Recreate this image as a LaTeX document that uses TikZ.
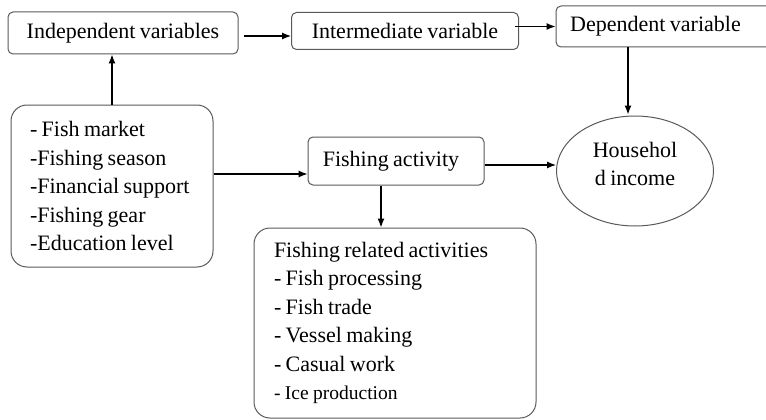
\documentclass[tikz,border=0pt]{standalone}
\usepackage{fontspec}
\setmainfont[WordSpace=0.8]{Liberation Serif}
\usetikzlibrary{shapes,arrows.meta}

\begin{document}
\begin{tikzpicture}[x=1pt,y=-1pt,>={Latex[length=9pt,width=7pt]}]
\tikzstyle{box} = [draw=black!65,line width=1pt,rounded corners=5pt,inner sep=0pt,
  font=\fontsize{22}{28.5}\selectfont]
\tikzstyle{listbox} = [box,rounded corners=16pt,align=left,inner xsep=19pt,
  execute at begin node={\spaceskip=0.2em plus 0.05em\relax}]
\tikzstyle{conn} = [->,line width=1.2pt]
\useasboundingbox (0,0) rectangle (766,420);
% top row
\node[box,minimum width=230pt,minimum height=42pt] (indep) at (123,33) {Independent variables};
\node[box,minimum width=227pt,minimum height=37pt] (inter) at (405,31) {Intermediate variable};
\node[box,minimum width=216pt,minimum height=41pt] (dep) at (664,26.5) {\hspace*{-17pt}Dependent variable};
% factors
\node[listbox,text width=164pt,minimum height=162pt] (factors) at (112,186)
  {- Fish market\\-Fishing season\\-Financial support\\-Fishing gear\\-Education level};
\node[box,minimum width=176pt,minimum height=48pt] (act) at (396,161) {\hspace*{-10pt}Fishing activity};
\node[draw=black!65,line width=1pt,ellipse,minimum width=157pt,minimum height=110pt,inner sep=0pt,
  label={[align=center,font=\fontsize{22}{28.5}\selectfont,yshift=7pt]center:Househol\\d income}]
  (house) at (635,171) {};
\node[listbox,inner xsep=20pt,text width=242pt,minimum height=190pt] (rel) at (395,323)
  {Fishing related activities\\- Fish processing\\- Fish trade\\- Vessel making\\- Casual work\\
   {\fontsize{19.5}{28.5}\selectfont - Ice production}};
% connectors
\draw[conn] (factors.north) -- (factors.north |- indep.south);
\draw[conn,shorten <=5pt] ([yshift=-3pt]indep.east) -- ([yshift=-3pt]indep.east -| inter.west);
\draw[conn,shorten <=-4pt] (dep.west -| inter.east) -- (dep.west);
\draw[conn] ([xshift=-7pt]house.north |- dep.south) -- ([xshift=-7pt,yshift=1pt]house.north);
\draw[conn] ([yshift=12pt]factors.east) -- ([yshift=12pt]factors.east -| act.west);
\draw[conn] ([yshift=-4pt]act.east) -- ([yshift=-4pt]act.east -| house.west);
\draw[conn] ([xshift=-15pt]act.south) -- ([xshift=-15pt]act.south |- rel.north);
\end{tikzpicture}
\end{document}
